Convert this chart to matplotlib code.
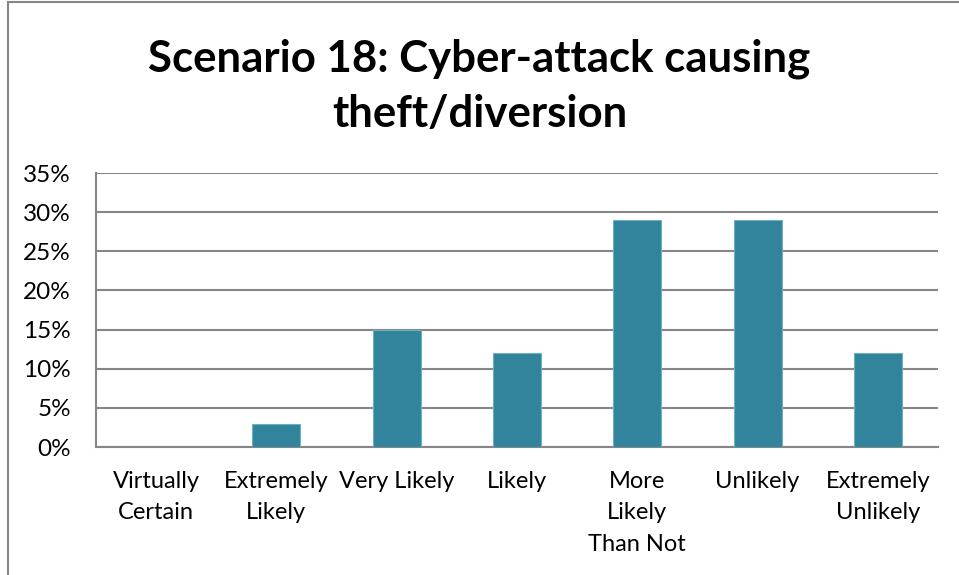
import matplotlib.pyplot as plt
from matplotlib.ticker import FuncFormatter, MultipleLocator
from matplotlib.patches import Rectangle

categories = [
    "Virtually\nCertain",
    "Extremely\nLikely",
    "Very Likely",
    "Likely",
    "More\nLikely\nThan Not",
    "Unlikely",
    "Extremely\nUnlikely",
]
values = [0, 3, 15, 12, 29, 29, 12]

title = "Scenario 18: Cyber-attack causing\ntheft/diversion"
bar_color = "#31849B"
grid_color = "#868686"

plt.rcParams["font.family"] = ["Lato", "DejaVu Sans"]

fig = plt.figure(figsize=(9.59, 5.75), dpi=100)
ax = fig.add_axes([96 / 959, 1 - 447 / 575, (938 - 96) / 959, (447 - 173) / 575])

x = range(len(categories))
ax.bar(x, values, width=0.4, color=bar_color, edgecolor="#6fb0c2", linewidth=0.8, zorder=3)

ax.set_xlim(-0.5, len(categories) - 0.5)
ax.set_ylim(0, 35)
ax.yaxis.set_major_locator(MultipleLocator(5))
ax.yaxis.set_major_formatter(FuncFormatter(lambda v, _: f"{v:.0f}%"))
ax.grid(axis="y", color=grid_color, linewidth=1.5, zorder=0)

ax.set_xticks(list(x))
ax.set_xticklabels(categories, fontsize=17, linespacing=1.62, va="top")
ax.tick_params(axis="y", labelsize=17.5)
ax.tick_params(axis="both", length=0, colors="black")
ax.tick_params(axis="x", pad=17)
ax.tick_params(axis="y", pad=18)

for side in ["top", "right"]:
    ax.spines[side].set_visible(False)
for side in ["left", "bottom"]:
    ax.spines[side].set_color(grid_color)
    ax.spines[side].set_linewidth(1.5)

fig.text(0.5, 1 - 86 / 575, title, ha="center", va="center", fontsize=31.5,
         fontweight="bold", linespacing=1.46)

# chart area border
fig.patches.append(Rectangle((8 / 959, -0.05), 1.2, 1.05 - 2 / 575, transform=fig.transFigure,
                             fill=False, edgecolor=grid_color, linewidth=1.5))

fig.savefig("out.png", dpi=100)
